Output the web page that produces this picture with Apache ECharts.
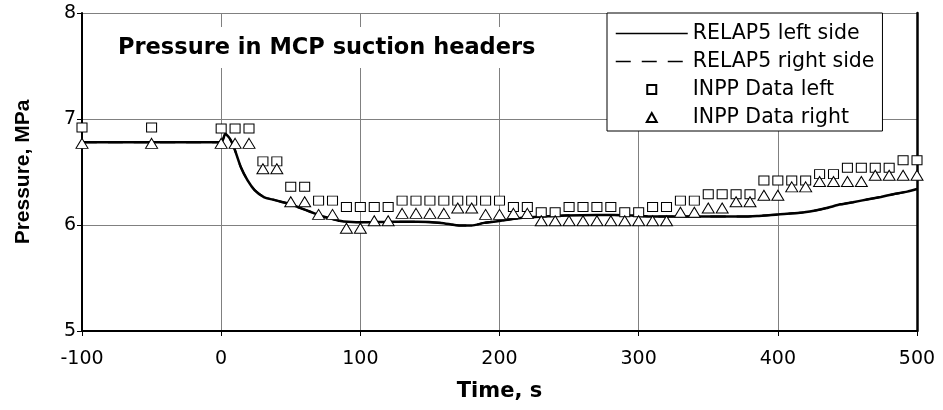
<!DOCTYPE html>
<html>
<head>
<meta charset="utf-8">
<script src="https://cdn.jsdelivr.net/npm/echarts@6/dist/echarts.min.js"></script>
<style>html,body{margin:0;padding:0;background:#fff;}#c{width:943px;height:410px;}</style>
</head>
<body>
<div id="c"></div>
<script>
// ---- data ----
var relapLeftTime = [-100, 0, 3, 6, 9, 14, 19, 24, 31, 37, 43, 49, 55, 61, 67, 73, 79, 85, 91, 103, 124, 141, 158, 172, 180, 189, 201, 218, 232, 247, 270, 295, 310, 340, 373, 385, 400, 416, 426, 435, 445, 454, 464, 474, 483, 493, 500];
var relapLeftP = [6.78, 6.78, 6.86, 6.82, 6.74, 6.55, 6.42, 6.33, 6.26, 6.24, 6.22, 6.20, 6.17, 6.14, 6.11, 6.08, 6.06, 6.04, 6.03, 6.025, 6.03, 6.03, 6.02, 5.995, 5.995, 6.02, 6.04, 6.07, 6.08, 6.09, 6.095, 6.09, 6.08, 6.08, 6.08, 6.085, 6.10, 6.115, 6.135, 6.16, 6.195, 6.215, 6.24, 6.265, 6.29, 6.315, 6.34];
var relapRightTime = [-100, 0, 3, 6, 9, 14, 19, 24, 31, 37, 43, 49, 55, 61, 67, 73, 79, 85, 91, 103, 124, 141, 158, 172, 180, 189, 201, 218, 232, 247, 270, 295, 310, 340, 373, 385, 400, 416, 426, 435, 445, 454, 464, 474, 483, 493, 500];
var relapRightP = [6.78, 6.78, 6.86, 6.82, 6.74, 6.55, 6.42, 6.33, 6.26, 6.24, 6.22, 6.20, 6.17, 6.14, 6.11, 6.08, 6.06, 6.04, 6.03, 6.025, 6.03, 6.03, 6.02, 5.995, 5.995, 6.02, 6.04, 6.07, 6.08, 6.09, 6.095, 6.09, 6.08, 6.08, 6.08, 6.085, 6.10, 6.115, 6.135, 6.16, 6.195, 6.215, 6.24, 6.265, 6.29, 6.315, 6.34];
var inppTime = [-100, -50, 0, 10, 20, 30, 40, 50, 60, 70, 80, 90, 100, 110, 120, 130, 140, 150, 160, 170, 180, 190, 200, 210, 220, 230, 240, 250, 260, 270, 280, 290, 300, 310, 320, 330, 340, 350, 360, 370, 380, 390, 400, 410, 420, 430, 440, 450, 460, 470, 480, 490, 500];
var inppLeftP = [6.92, 6.92, 6.91, 6.91, 6.91, 6.60, 6.60, 6.36, 6.36, 6.23, 6.23, 6.17, 6.17, 6.17, 6.17, 6.23, 6.23, 6.23, 6.23, 6.23, 6.23, 6.23, 6.23, 6.17, 6.17, 6.12, 6.12, 6.17, 6.17, 6.17, 6.17, 6.12, 6.12, 6.17, 6.17, 6.23, 6.23, 6.29, 6.29, 6.29, 6.29, 6.42, 6.42, 6.42, 6.42, 6.48, 6.48, 6.54, 6.54, 6.54, 6.54, 6.61, 6.61];
var inppRightP = [6.77, 6.77, 6.77, 6.77, 6.77, 6.53, 6.53, 6.22, 6.22, 6.10, 6.10, 5.97, 5.97, 6.04, 6.04, 6.11, 6.11, 6.11, 6.11, 6.16, 6.16, 6.10, 6.10, 6.11, 6.11, 6.04, 6.04, 6.04, 6.04, 6.04, 6.04, 6.04, 6.04, 6.04, 6.04, 6.12, 6.12, 6.16, 6.16, 6.22, 6.22, 6.28, 6.28, 6.36, 6.36, 6.41, 6.41, 6.41, 6.41, 6.47, 6.47, 6.47, 6.47];
var seriesNames = ['RELAP5 left side', 'RELAP5 right side', 'INPP Data left', 'INPP Data right'];
var chartTitle = 'Pressure in MCP suction headers';
var xTitle = 'Time, s';
var yTitle = 'Pressure, MPa';

function zip(a, b) { var r = []; for (var i = 0; i < a.length; i++) r.push([a[i], b[i]]); return r; }

var FONT = '"Liberation Sans", Arial, sans-serif';
var WIDE = '"DejaVu Sans", "Liberation Sans", sans-serif';
var chart = echarts.init(document.getElementById('c'), null, { renderer: 'canvas' });
chart.setOption({
  animation: false,
  backgroundColor: '#ffffff',
  textStyle: { fontFamily: FONT, color: '#000' },
  title: {
    text: chartTitle, left: 114, top: 27, padding: [9, 4, 8, 4],
    backgroundColor: '#ffffff',
    textStyle: { fontFamily: WIDE, fontSize: 22.5, lineHeight: 24, fontWeight: 'bold', color: '#000' }
  },
  legend: {
    orient: 'vertical', left: 607, top: 13,
    padding: [10, 8, 3, 8], itemWidth: 72, itemHeight: 9, itemGap: 7,
    backgroundColor: '#ffffff', borderColor: '#000', borderWidth: 1,
    textStyle: { fontFamily: WIDE, fontSize: 20.5, lineHeight: 20, color: '#000' },
    data: [
      { name: seriesNames[0], lineStyle: { width: 1.5 }, itemStyle: { opacity: 0 } },
      { name: seriesNames[1], lineStyle: { width: 1.5, type: [15, 11] }, itemStyle: { opacity: 0 } },
      { name: seriesNames[2], icon: 'path://M0,0L10,0L10,10L0,10Z' },
      { name: seriesNames[3], icon: 'path://M5,0L10,9L0,9Z' }
    ]
  },
  grid: { left: 82, right: 26, top: 13, bottom: 79, containLabel: false },
  xAxis: {
    type: 'value', min: -100, max: 500, interval: 100,
    name: xTitle, nameLocation: 'middle', nameGap: 50,
    nameTextStyle: { fontFamily: WIDE, fontSize: 21, fontWeight: 'bold', color: '#000' },
    axisLine: { onZero: false, lineStyle: { color: '#000', width: 2 } },
    axisTick: { show: true, inside: false, length: 5, lineStyle: { color: '#000' } },
    axisLabel: { fontFamily: WIDE, fontSize: 19, color: '#000', margin: 19 },
    splitLine: { show: true, lineStyle: { color: '#808080', width: 1 } }
  },
  yAxis: [{
    type: 'value', min: 5, max: 8, interval: 1,
    name: yTitle, nameLocation: 'middle', nameGap: 48,
    nameTextStyle: { fontFamily: FONT, fontSize: 21, fontWeight: 'bold', color: '#000' },
    axisLine: { show: true, onZero: false, lineStyle: { color: '#000', width: 2 } },
    axisTick: { show: true, inside: false, length: 5, lineStyle: { color: '#000' } },
    axisLabel: { fontFamily: WIDE, fontSize: 19, color: '#000', margin: 6 },
    splitLine: { show: true, lineStyle: { color: '#808080', width: 1 } }
  }, {
    type: 'value', min: 5, max: 8, interval: 1, position: 'right',
    axisLine: { show: true, onZero: false, lineStyle: { color: '#000', width: 2.5 } },
    axisTick: { show: false }, axisLabel: { show: false }, splitLine: { show: false }
  }],
  series: [
    {
      name: seriesNames[0], type: 'line', data: zip(relapLeftTime, relapLeftP),
      showSymbol: false, symbol: 'none', smooth: 0.2, z: 2,
      lineStyle: { color: '#000', width: 2.5 }, itemStyle: { color: '#000' }
    },
    {
      name: seriesNames[1], type: 'line', data: zip(relapRightTime, relapRightP),
      showSymbol: false, symbol: 'none', smooth: 0.2, z: 2,
      lineStyle: { color: '#000', width: 2, type: [15, 11] }, itemStyle: { color: '#000' }
    },
    {
      name: seriesNames[2], type: 'scatter', data: zip(inppTime, inppLeftP),
      symbol: 'rect', symbolSize: [10, 9], z: 4,
      itemStyle: { color: '#fff', borderColor: '#000', borderWidth: 1, opacity: 1 }
    },
    {
      name: seriesNames[3], type: 'scatter', data: zip(inppTime, inppRightP),
      symbol: 'triangle', symbolSize: [12, 10], z: 4,
      itemStyle: { color: '#fff', borderColor: '#000', borderWidth: 1, opacity: 1 }
    }
  ]
});
</script>
</body>
</html>
